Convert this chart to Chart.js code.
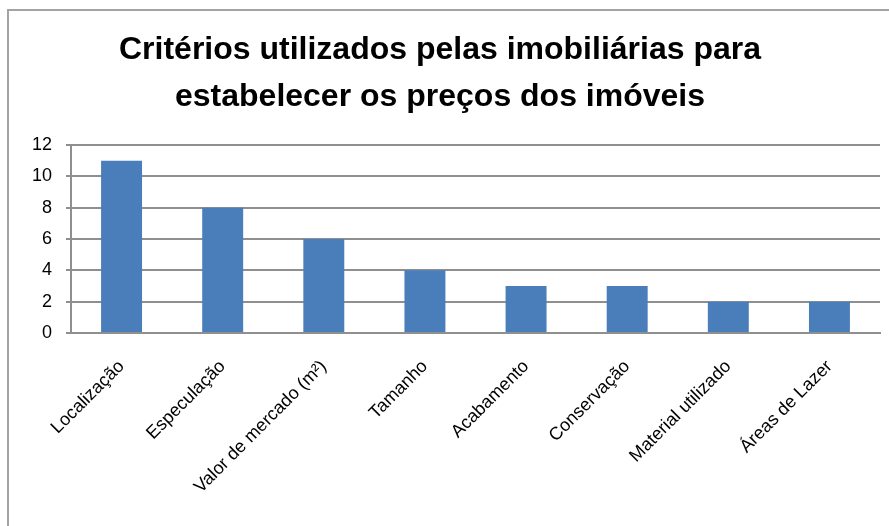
<!DOCTYPE html>
<html>
<head>
<meta charset="utf-8">
<script src="https://cdn.jsdelivr.net/npm/chart.js@4.4.1/dist/chart.umd.min.js"></script>
<style>
  html, body { margin: 0; padding: 0; background: #fff; }
  #wrap { position: relative; width: 889px; height: 526px; overflow: hidden; }
  #frame {
    position: absolute; left: 7px; top: 9px; right: -4px; bottom: -4px;
    border-left: 2px solid #a3a3a3; border-top: 2px solid #a3a3a3;
  }
  #chart { position: absolute; left: 0; top: 0; }
</style>
</head>
<body>
<div id="wrap">
  <div id="frame"></div>
  <canvas id="chart" width="889" height="526"></canvas>
</div>
<script>
const titleLines = ['Critérios utilizados pelas imobiliárias para', 'estabelecer os preços dos imóveis'];
const criterios = ['Localização', 'Especulação', 'Valor de mercado (m²)', 'Tamanho', 'Acabamento', 'Conservação', 'Material utilizado', 'Áreas de Lazer'];
const respostas = [11, 8, 6, 4, 3, 3, 2, 2];
const yTicks = [0, 2, 4, 6, 8, 10, 12];

const gridGrey = '#8f8f8f';
const labelFont = "'Liberation Sans', Arial, sans-serif";

const ctx = document.getElementById('chart').getContext('2d');

new Chart(ctx, {
    type: 'bar',
    data: {
        labels: criterios,
        datasets: [{
            label: '',
            data: respostas,
            backgroundColor: '#4a7ebb',
            borderWidth: 0,
            barPercentage: 0.81,
            categoryPercentage: 0.5
        }]
    },
    options: {
        responsive: false,
        animation: false,
        layout: {
            padding: { left: 0, right: 9, top: 0, bottom: 0 }
        },
        plugins: {
            legend: { display: false },
            tooltip: { enabled: false },
            title: {
                display: true,
                text: titleLines,
                color: '#000',
                font: { family: labelFont, size: 32, weight: 'bold', lineHeight: 1.47 },
                padding: { top: 27, bottom: 24 }
            }
        },
        scales: {
            x: {
                grid: { display: false },
                border: { display: true, color: gridGrey, width: 2 },
                ticks: {
                    color: '#000',
                    font: { family: labelFont, size: 18 },
                    minRotation: 45,
                    maxRotation: 45,
                    autoSkip: false,
                    padding: 15
                },
                afterFit: (scale) => { scale.height = 193; }
            },
            y: {
                min: 0,
                max: 12,
                grid: { color: gridGrey, lineWidth: 2, tickLength: 5 },
                border: { display: true, color: gridGrey, width: 2 },
                afterBuildTicks: (scale) => { scale.ticks = yTicks.map(v => ({ value: v })); },
                ticks: {
                    color: '#000',
                    font: { family: labelFont, size: 18 },
                    padding: 14
                },
                afterFit: (scale) => { scale.width = 71; }
            }
        }
    }
});
</script>
</body>
</html>
